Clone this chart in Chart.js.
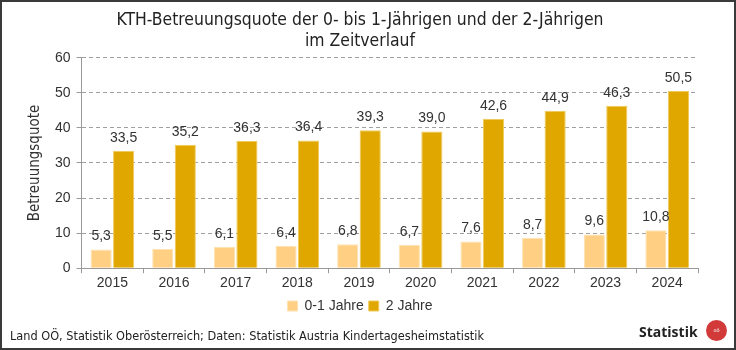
<!DOCTYPE html>
<html>
<head>
<meta charset="utf-8">
<script src="https://cdn.jsdelivr.net/npm/chart.js@4/dist/chart.umd.min.js"></script>
<style>
  html, body { margin: 0; padding: 0; background: #fff; }
  #frame {
    position: relative;
    width: 736px; height: 350px;
    box-sizing: border-box;
    border: 2px solid #3a3a3a;
    overflow: hidden;
  }
  #chart { position: absolute; left: -2px; top: -2px; }
  #source {
    position: absolute; left: 8px; top: 326px;
    font: 12.6px "DejaVu Sans Condensed", sans-serif;
    color: #222;
  }
  #brand {
    position: absolute; left: 637px; top: 320px;
    font: bold 14px "Open Sans", sans-serif;
    color: #222;
  }
  #logo {
    position: absolute; left: 704px; top: 318px;
    width: 21px; height: 21px; border-radius: 50%;
    background: #d23a3a; color: #fff;
    font: 5px "DejaVu Sans", sans-serif; text-align: center; line-height: 21px;
  }
</style>
</head>
<body>
<div id="frame">
  <canvas id="chart" width="736" height="350"></canvas>
  <div id="source">Land OÖ, Statistik Oberösterreich; Daten: Statistik Austria Kindertagesheimstatistik</div>
  <div id="brand">Statistik</div>
  <div id="logo">oö</div>
</div>
<script>
// Jahre und Betreuungsquoten (in %)
const years = ['2015', '2016', '2017', '2018', '2019', '2020', '2021', '2022', '2023', '2024'];
const quote01 = [5.3, 5.5, 6.1, 6.4, 6.8, 6.7, 7.6, 8.7, 9.6, 10.8];
const quote2 = [33.5, 35.2, 36.3, 36.4, 39.3, 39.0, 42.6, 44.9, 46.3, 50.5];
const seriesNames = ['0-1 Jahre', '2 Jahre'];
const titleLines = ['KTH-Betreuungsquote der 0- bis 1-Jährigen und der 2-Jährigen', 'im Zeitverlauf'];

const labelFont = '14px "Liberation Sans", Arial, sans-serif';
const narrowFont = '"DejaVu Sans Condensed", sans-serif';

// writes the value above each bar, with a decimal comma
const valueLabels = {
    id: 'valueLabels',
    afterDatasetsDraw(chart) {
        const ctx = chart.ctx;
        ctx.save();
        ctx.font = labelFont;
        ctx.fillStyle = '#333';
        ctx.textAlign = 'center';
        ctx.textBaseline = 'bottom';
        chart.data.datasets.forEach((ds, i) => {
            chart.getDatasetMeta(i).data.forEach((bar, j) => {
                const txt = ds.data[j].toFixed(1).replace('.', ',');
                ctx.fillText(txt, bar.x, bar.y - 6);
            });
        });
        ctx.restore();
    }
};

new Chart(document.getElementById('chart'), {
    type: 'bar',
    data: {
        labels: years,
        datasets: [
            {
                label: seriesNames[0],
                data: quote01,
                backgroundColor: '#ffd083',
                borderColor: '#ffe2b0',
                borderWidth: 1,
                categoryPercentage: 0.73,
                barPercentage: 0.94
            },
            {
                label: seriesNames[1],
                data: quote2,
                backgroundColor: '#dfa700',
                borderColor: '#efca5a',
                borderWidth: 1,
                categoryPercentage: 0.73,
                barPercentage: 0.94
            }
        ]
    },
    options: {
        responsive: false,
        animation: false,
        layout: {
            padding: { left: 22, right: 38, top: 2, bottom: 27 }
        },
        plugins: {
            title: {
                display: true,
                text: titleLines,
                color: '#222',
                font: { family: narrowFont, size: 17.4, weight: 'normal', lineHeight: 1.2 },
                padding: { top: 8, bottom: 6 }
            },
            legend: {
                position: 'bottom',
                labels: {
                    color: '#333',
                    font: { family: '"Liberation Sans", Arial, sans-serif', size: 14 },
                    boxWidth: 10,
                    boxHeight: 10,
                    padding: 5
                }
            },
            tooltip: { enabled: false }
        },
        scales: {
            x: {
                grid: {
                    offset: true,
                    drawOnChartArea: false,
                    color: '#999',
                    tickLength: 5
                },
                border: { color: '#999' },
                ticks: { color: '#333', font: { family: '"Liberation Sans", Arial, sans-serif', size: 14 }, padding: 2 }
            },
            y: {
                min: 0,
                max: 60,
                ticks: { stepSize: 10, color: '#333', font: { family: '"Liberation Sans", Arial, sans-serif', size: 14 }, padding: 6 },
                grid: { color: '#a0a0a0', tickLength: 5, tickColor: '#999' },
                border: { color: '#999', dash: [4, 3] },
                title: {
                    display: true,
                    text: 'Betreuungsquote',
                    color: '#333',
                    font: { family: narrowFont, size: 15 },
                    padding: { bottom: 5 }
                }
            }
        }
    },
    plugins: [valueLabels]
});
</script>
</body>
</html>
